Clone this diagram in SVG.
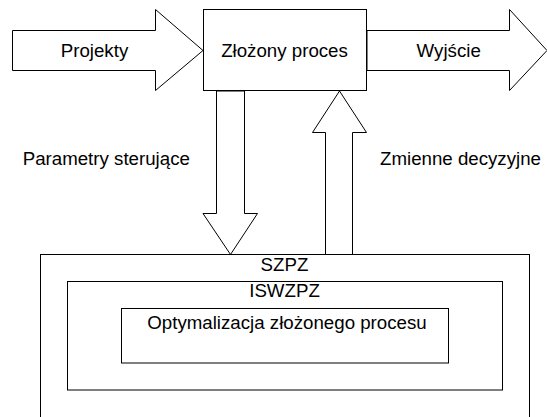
<svg xmlns="http://www.w3.org/2000/svg" width="547" height="417" viewBox="0 0 547 417">
<style>
.s{fill:#fff;stroke:#000;stroke-width:1;stroke-linejoin:miter}
.t{font-family:"Liberation Sans",Arial,sans-serif;font-size:18.7px;fill:#000}
.m{text-anchor:middle}
</style>
<rect width="547" height="417" fill="#fff"/>
<g id="connectors">
<polygon id="arrow-projekty" class="s" points="12.5,30.5 155.5,30.5 155.5,9.5 203,50.5 155.5,90.5 155.5,70.5 12.5,70.5"/>
<polygon id="arrow-wyjscie" class="s" points="367,30.5 509.5,30.5 509.5,9.5 547,50.5 509.5,90.5 509.5,70.5 367,70.5"/>
<polygon id="arrow-parametry" class="s" points="216.5,91 244.5,91 244.5,213.5 257.5,213.5 230.5,254.5 203,213.5 216.5,213.5"/>
<polygon id="arrow-zmienne" class="s" points="339.5,91 366.5,132.5 352.5,132.5 352.5,254.5 325.5,254.5 325.5,132.5 312.5,132.5"/>
</g>
<g id="proces">
<rect class="s" x="203.5" y="9.5" width="163" height="81"/>
<text class="t m" x="284.5" y="57.3">Złożony proces</text>
</g>
<g id="labels">
<text class="t m" x="94.5" y="57">Projekty</text>
<text class="t m" x="448.7" y="57">Wyjście</text>
<text class="t" x="22.7" y="165">Parametry sterujące</text>
<text class="t" x="380" y="165">Zmienne decyzyjne</text>
</g>
<g id="szpz">
<rect class="s" x="40.5" y="254.5" width="489" height="180"/>
<text class="t m" x="284.5" y="270.7">SZPZ</text>
</g>
<g id="iswzpz">
<rect class="s" x="67.5" y="281.5" width="435" height="108.5"/>
<text class="t m" x="284.5" y="297.3">ISWZPZ</text>
</g>
<g id="optymalizacja">
<rect class="s" x="121.5" y="308.5" width="327" height="54.5"/>
<text class="t m" x="287" y="328.5">Optymalizacja złożonego procesu</text>
</g>
</svg>
